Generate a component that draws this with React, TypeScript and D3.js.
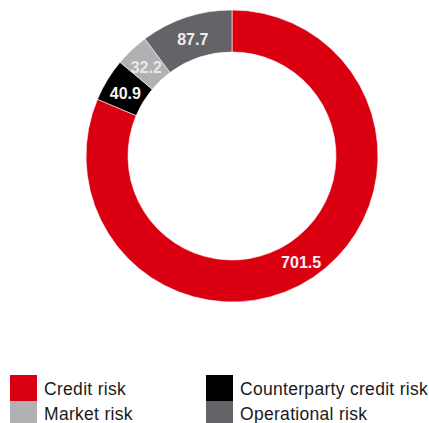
import React from "react";
import * as d3 from "d3";

const categories = ["Credit risk", "Counterparty credit risk", "Market risk", "Operational risk"];
const values = [701.5, 40.9, 32.2, 87.7];
const colors = ["#db0011", "#000000", "#b1b0b3", "#636368"];
const labelColors = ["#f4f4f4", "#f4f4f4", "#e8e8ea", "#eeeeee"];
const legendOrder = [0, 2, 1, 3];

export default function App() {
  const W = 429, H = 423;
  const cx = 232, cy = 156, rOuter = 146, rInner = 104;
  const pie = d3.pie<number>().sort(null).value((d) => d).startAngle(0).endAngle(2 * Math.PI);
  const arcs = pie(values);
  const arc = d3.arc<d3.PieArcDatum<number>>().innerRadius(rInner).outerRadius(rOuter);
  const labelArc = d3.arc<d3.PieArcDatum<number>>().innerRadius(rInner).outerRadius(rOuter);

  const legendPos = [
    { x: 10, y: 375, ty: 395 },
    { x: 10, y: 401, ty: 420 },
    { x: 206, y: 375, ty: 395 },
    { x: 206, y: 401, ty: 420 },
  ];

  return (
    <svg width={W} height={H} style={{ position: "absolute", left: 0, top: 0, display: "block" }}
      fontFamily="'Liberation Sans', Arial, sans-serif">
      <rect width={W} height={H} fill="#ffffff" />
      <g transform={`translate(${cx},${cy})`}>
        {arcs.map((a, i) => (
          <path key={i} d={arc(a) || ""} fill={colors[i]} stroke="#ffffff" strokeWidth={0.6} />
        ))}
        {arcs.map((a, i) => {
          const [x, y] = labelArc.centroid(a);
          return (
            <text key={"l" + i} x={x} y={y + 2} dy="0.36em" textAnchor="middle" fontWeight="bold"
              fontSize={16} fill={labelColors[i]}>
              {values[i].toFixed(1)}
            </text>
          );
        })}
      </g>
      {legendOrder.map((ci, k) => {
        const p = legendPos[k];
        return (
          <g key={"lg" + k}>
            <rect x={p.x} y={p.y} width={27} height={26} fill={colors[ci]} />
            <text x={p.x + 34} y={p.ty} fontSize={17.5} letterSpacing={0.3} fill="#1a1a1a">{categories[ci]}</text>
          </g>
        );
      })}
    </svg>
  );
}
